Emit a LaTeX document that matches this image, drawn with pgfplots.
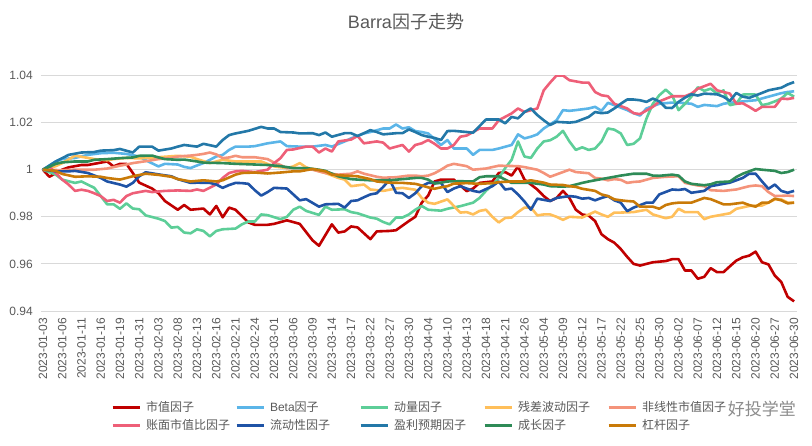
\documentclass[border=0pt]{standalone}
\usepackage{pgfplots}
\pgfplotsset{compat=1.18}
\usepackage{fontspec}
\setmainfont{Liberation Sans}
\newfontfamily\cjk{Noto Sans CJK SC}
\definecolor{cA}{HTML}{C00000}
\definecolor{cB}{HTML}{5BB5E8}
\definecolor{cC}{HTML}{5DCE98}
\definecolor{cD}{HTML}{FFBF5A}
\definecolor{cE}{HTML}{F4937A}
\definecolor{cF}{HTML}{EE5F78}
\definecolor{cG}{HTML}{1F53A6}
\definecolor{cH}{HTML}{2378A8}
\definecolor{cI}{HTML}{2E8B57}
\definecolor{cJ}{HTML}{C97A08}
\definecolor{labelgray}{HTML}{595959}
\definecolor{gridgray}{HTML}{D9D9D9}
\begin{document}
\begin{tikzpicture}[x=1pt,y=1pt]
\useasboundingbox (0,0) rectangle (812,445);
\begin{axis}[
  at={(41pt,134pt)}, anchor=south west,
  scale only axis, width=756pt, height=235.5pt,
  xmin=-0.3, xmax=117.45, ymin=0.94, ymax=1.04,
  ytick={0.94,0.96,0.98,1,1.02,1.04},
  yticklabels={0.94,0.96,0.98,1,1.02,1.04},
  xtick={0,3,...,117},
  xticklabels={2023-01-03,2023-01-06,2023-01-11,2023-01-16,2023-01-19,2023-01-31,2023-02-03,2023-02-08,2023-02-13,2023-02-16,2023-02-21,2023-02-24,2023-03-01,2023-03-06,2023-03-09,2023-03-14,2023-03-17,2023-03-22,2023-03-27,2023-03-30,2023-04-04,2023-04-10,2023-04-13,2023-04-18,2023-04-21,2023-04-26,2023-05-04,2023-05-09,2023-05-12,2023-05-17,2023-05-22,2023-05-25,2023-05-30,2023-06-02,2023-06-07,2023-06-12,2023-06-15,2023-06-20,2023-06-27,2023-06-30},
  ymajorgrids, grid style={color=gridgray, line width=0.9pt},
  axis line style={draw=none}, major tick length=0pt,
  tick label style={font=\fontsize{12}{14}\selectfont, text=labelgray},
  xticklabel style={rotate=90, anchor=east, inner sep=0pt},
  yticklabel style={anchor=east, inner sep=0pt},
  xticklabel shift=7pt, yticklabel shift=8pt,
  legend columns=5,
  legend cell align=left,
  legend style={draw=none, fill=none, at={(0.0926,-0.385)}, anchor=north west,
    font=\fontsize{12}{14}\selectfont, text=labelgray, inner sep=0pt, outer sep=0pt,
    row sep=6pt, nodes={inner sep=0pt},
    /tikz/every odd column/.append style={column sep=5pt}},
  legend image code/.code={\draw[line width=3pt] (0pt,0pt) -- (27pt,0pt);},
  every axis plot/.append style={line width=2.6pt, line join=round},
]
\addplot[cA] coordinates {(0,1.000)(1,0.997)(3,1.000)(4,1.001)(6,1.002)(7,1.002)(10,1.0035)(11,1.0014)(12,1.0025)(13,1.0025)(14,0.9986)(15,0.9945)(17,0.992)(18,0.990)(19,0.9867)(21,0.983)(22,0.985)(23,0.983)(25,0.9835)(26,0.981)(27,0.9846)(28,0.9798)(29,0.9839)(30,0.983)(32,0.9776)(33,0.9766)(35,0.9766)(36,0.977)(38,0.9785)(40,0.977)(42,0.970)(43,0.9677)(45,0.9768)(46,0.9733)(47,0.9738)(48,0.9759)(49,0.9755)(51,0.9705)(52,0.9738)(54,0.974)(55,0.9743)(57,0.9782)(58,0.980)(59,0.986)(60,0.989)(61,0.995)(62,0.9958)(64,0.9958)(66,0.9909)(67,0.992)(68,0.9944)(70,0.995)(71,0.9986)(72,0.999)(73,0.9975)(74,1.0014)(75,0.9958)(77,0.9916)(78,0.9888)(79,0.9867)(80,0.988)(81,0.991)(82,0.988)(83,0.983)(84,0.981)(85,0.9805)(86,0.9782)(87,0.9726)(88,0.9705)(89,0.969)(90,0.9663)(91,0.963)(92,0.960)(93,0.9593)(95,0.9607)(97,0.9612)(98,0.962)(99,0.962)(100,0.9572)(101,0.9572)(102,0.9537)(103,0.9545)(104,0.9582)(105,0.9565)(106,0.9565)(107,0.959)(108,0.9614)(109,0.9628)(110,0.9635)(111,0.9652)(112,0.9607)(113,0.9598)(114,0.955)(115,0.9523)(116,0.946)(117,0.9441)};
\addlegendentry{\makebox[89pt][l]{\cjk 市值因子}}
\addplot[cB] coordinates {(0,1.000)(2,1.0035)(3,1.0045)(5,1.005)(7,1.0063)(9,1.007)(11,1.0072)(13,1.0067)(15,1.0056)(16,1.004)(18,1.0014)(19,1.0025)(21,1.0022)(22,1.0012)(23,1.0007)(24,1.0018)(25,1.0028)(27,1.0056)(28,1.0063)(29,1.0084)(30,1.0098)(32,1.0098)(33,1.010)(35,1.0112)(37,1.012)(38,1.010)(40,1.0098)(42,1.0098)(44,1.0105)(45,1.0098)(47,1.012)(48,1.0133)(50,1.0154)(51,1.016)(53,1.0175)(54,1.0175)(55,1.0192)(56,1.0175)(57,1.018)(58,1.0164)(59,1.016)(60,1.0154)(61,1.013)(62,1.0105)(63,1.0126)(64,1.009)(66,1.009)(67,1.0063)(68,1.0084)(70,1.0084)(71,1.009)(73,1.0105)(74,1.015)(75,1.0133)(76,1.014)(77,1.015)(78,1.0175)(80,1.021)(81,1.0253)(82,1.025)(83,1.0253)(85,1.026)(86,1.0267)(87,1.025)(88,1.0284)(89,1.0274)(91,1.0253)(92,1.024)(93,1.023)(94,1.026)(96,1.028)(98,1.0285)(99,1.0285)(101,1.028)(102,1.0267)(103,1.0275)(105,1.027)(106,1.028)(107,1.0284)(109,1.029)(111,1.0295)(113,1.031)(115,1.0325)(116,1.033)(117,1.0333)};
\addlegendentry{\makebox[89pt][l]{Beta{\cjk 因子}}}
\addplot[cC] coordinates {(0,1.000)(2,0.9979)(3,0.9958)(5,0.9944)(6,0.995)(8,0.9923)(9,0.9888)(10,0.9853)(11,0.9853)(12,0.9834)(13,0.9857)(14,0.9835)(15,0.9832)(16,0.9806)(18,0.9792)(19,0.9782)(20,0.9754)(21,0.9757)(22,0.9733)(23,0.973)(24,0.9747)(25,0.974)(26,0.9717)(27,0.974)(28,0.9747)(30,0.975)(31,0.9768)(32,0.978)(33,0.978)(34,0.981)(35,0.9807)(37,0.979)(38,0.980)(39,0.983)(40,0.9843)(41,0.9825)(43,0.9808)(44,0.9843)(45,0.983)(47,0.9832)(48,0.982)(49,0.9815)(51,0.9797)(52,0.9792)(53,0.9778)(54,0.9768)(55,0.9797)(56,0.9797)(57,0.981)(58,0.983)(59,0.9846)(60,0.983)(62,0.9826)(63,0.9834)(65,0.9845)(67,0.986)(68,0.988)(69,0.991)(70,0.9935)(71,0.9965)(72,1.0007)(73,1.0042)(74,1.012)(75,1.0056)(76,1.005)(77,1.009)(78,1.012)(79,1.0125)(80,1.014)(81,1.0165)(82,1.012)(83,1.0084)(84,1.0095)(85,1.0084)(86,1.009)(87,1.012)(88,1.0175)(89,1.017)(90,1.0154)(91,1.0105)(92,1.011)(93,1.0133)(94,1.0217)(95,1.028)(96,1.0316)(97,1.034)(98,1.0316)(99,1.0253)(100,1.028)(101,1.031)(102,1.035)(103,1.0335)(104,1.0344)(105,1.0323)(106,1.0337)(107,1.0274)(108,1.028)(109,1.0319)(110,1.032)(111,1.0319)(112,1.0274)(113,1.028)(114,1.029)(115,1.0302)(116,1.0326)(117,1.031)};
\addlegendentry{\makebox[89pt][l]{\cjk 动量因子}}
\addplot[cD] coordinates {(0,1.000)(2,1.0015)(3,1.0028)(5,1.0059)(6,1.0055)(8,1.0045)(10,1.004)(11,1.0045)(13,1.005)(15,1.0048)(18,1.0053)(21,1.0059)(23,1.0055)(24,1.0045)(26,1.0028)(28,1.0042)(30,1.0035)(32,1.0035)(34,1.0035)(36,1.0014)(38,1.0007)(39,1.0014)(40,1.0028)(41,1.001)(43,0.9993)(44,0.9986)(46,0.9965)(47,0.9958)(48,0.993)(50,0.9937)(51,0.9916)(53,0.991)(55,0.992)(56,0.9923)(58,0.9915)(59,0.988)(60,0.986)(61,0.9855)(63,0.9874)(64,0.9846)(65,0.9818)(66,0.982)(67,0.981)(68,0.9825)(69,0.983)(70,0.980)(71,0.9776)(72,0.9795)(73,0.9797)(74,0.982)(75,0.9839)(76,0.984)(77,0.9806)(78,0.981)(79,0.981)(80,0.980)(81,0.9787)(82,0.980)(84,0.9797)(86,0.9822)(87,0.981)(88,0.980)(89,0.9818)(90,0.9818)(92,0.982)(94,0.983)(95,0.981)(97,0.9794)(98,0.980)(99,0.9834)(100,0.982)(102,0.982)(103,0.979)(104,0.980)(106,0.981)(107,0.9815)(108,0.9834)(110,0.9846)(112,0.9848)(113,0.986)(114,0.9874)(115,0.9874)(116,0.986)(117,0.986)};
\addlegendentry{\makebox[89pt][l]{\cjk 残差波动因子}}
\addplot[cE] coordinates {(0,1.000)(3,0.9998)(5,1.0)(8,1.0)(10,1.0005)(12,1.0017)(13,1.0022)(14,1.0028)(16,1.0036)(18,1.0045)(20,1.005)(21,1.0056)(23,1.006)(24,1.0063)(25,1.0067)(26,1.0073)(27,1.0065)(28,1.0049)(29,1.0052)(30,1.0059)(31,1.0053)(33,1.0053)(35,1.0045)(36,1.003)(37,1.002)(38,1.0007)(40,1.0007)(42,1.0)(43,0.9993)(44,0.9986)(46,0.9979)(48,0.9983)(49,0.9993)(50,0.9983)(52,0.997)(53,0.9966)(55,0.9968)(57,0.9975)(58,0.9975)(59,0.9972)(60,0.9975)(61,0.9985)(62,1.0)(63,1.0017)(64,1.0025)(66,1.0015)(67,1.0)(69,1.0005)(71,1.0017)(74,1.0015)(75,1.0011)(77,1.0)(78,0.9986)(79,0.997)(80,0.998)(82,1.0)(83,0.999)(85,0.9985)(86,0.9965)(87,0.9962)(88,0.9955)(89,0.996)(90,0.9957)(91,0.9944)(92,0.9948)(93,0.995)(95,0.9965)(97,0.997)(99,0.9972)(100,0.9944)(102,0.9933)(103,0.993)(104,0.9913)(106,0.991)(108,0.9916)(110,0.993)(111,0.9933)(112,0.993)(113,0.9905)(114,0.9888)(116,0.989)(117,0.9888)};
\addlegendentry{\makebox[89pt][l]{\cjk 非线性市值因子}}
\addplot[cF] coordinates {(0,1.000)(1,1.0014)(2,0.9986)(3,0.9958)(4,0.9937)(5,0.991)(6,0.9915)(7,0.991)(8,0.990)(9,0.9888)(10,0.9867)(11,0.9872)(12,0.986)(13,0.9888)(14,0.990)(16,0.991)(17,0.9905)(19,0.991)(21,0.9912)(23,0.991)(24,0.9916)(25,0.991)(27,0.9937)(28,0.9965)(29,0.9986)(30,0.9993)(31,0.9995)(33,0.999)(34,0.9995)(35,1.0)(36,1.0028)(37,1.0049)(38,1.0084)(39,1.0086)(41,1.0098)(42,1.0098)(43,1.0073)(44,1.009)(45,1.0077)(46,1.012)(48,1.0128)(49,1.0143)(50,1.0112)(52,1.012)(53,1.0115)(54,1.009)(56,1.0105)(57,1.0077)(58,1.0105)(59,1.0112)(60,1.0126)(61,1.011)(62,1.009)(63,1.009)(64,1.0105)(65,1.014)(66,1.0145)(68,1.0175)(70,1.0175)(71,1.021)(73,1.0239)(74,1.026)(75,1.0245)(77,1.026)(78,1.0337)(79,1.037)(80,1.040)(81,1.040)(82,1.038)(84,1.037)(85,1.037)(86,1.033)(87,1.0316)(88,1.0312)(89,1.028)(91,1.026)(92,1.024)(93,1.0236)(95,1.0267)(96,1.029)(98,1.0312)(100,1.0312)(101,1.0323)(102,1.0344)(104,1.0365)(105,1.0337)(107,1.0323)(108,1.028)(109,1.0282)(110,1.0267)(111,1.025)(112,1.0267)(114,1.0267)(115,1.0302)(116,1.030)(117,1.0305)};
\addlegendentry{\makebox[89pt][l]{\cjk 账面市值比因子}}
\addplot[cG] coordinates {(0,1.000)(2,0.9993)(4,0.9993)(5,0.9995)(7,0.9986)(9,0.9965)(10,0.995)(12,0.9937)(13,0.9928)(14,0.9944)(15,0.9972)(16,0.9989)(18,0.998)(20,0.9972)(21,0.996)(23,0.9944)(24,0.9945)(26,0.9944)(27,0.9937)(28,0.9923)(29,0.9935)(30,0.9944)(31,0.9943)(32,0.994)(33,0.9913)(34,0.989)(35,0.9905)(36,0.9923)(38,0.992)(39,0.9895)(40,0.987)(41,0.9875)(43,0.9843)(44,0.9853)(46,0.9855)(47,0.9839)(48,0.9867)(49,0.987)(50,0.9883)(51,0.9895)(52,0.990)(53,0.9927)(54,0.9958)(55,0.9902)(56,0.990)(57,0.988)(58,0.990)(59,0.993)(60,0.9944)(61,0.9945)(62,0.9944)(63,0.9905)(64,0.992)(65,0.993)(67,0.991)(68,0.9905)(70,0.993)(71,0.995)(72,0.9916)(73,0.992)(74,0.9895)(75,0.9865)(76,0.983)(77,0.9877)(78,0.9872)(79,0.9867)(80,0.988)(82,0.9888)(83,0.9885)(84,0.9877)(85,0.988)(86,0.987)(87,0.988)(88,0.9888)(89,0.987)(90,0.986)(91,0.9824)(92,0.9839)(94,0.986)(95,0.986)(96,0.9895)(98,0.9916)(99,0.9914)(100,0.9918)(101,0.9902)(103,0.991)(104,0.993)(106,0.994)(107,0.9945)(109,0.9965)(110,0.9983)(111,0.9983)(112,0.995)(113,0.9919)(114,0.9937)(115,0.991)(116,0.9902)(117,0.991)};
\addlegendentry{\makebox[89pt][l]{\cjk 流动性因子}}
\addplot[cH] coordinates {(0,1.000)(2,1.0035)(3,1.0049)(4,1.0063)(6,1.0073)(8,1.0075)(9,1.0081)(11,1.0083)(12,1.0088)(14,1.0073)(15,1.0098)(17,1.0098)(18,1.0081)(20,1.009)(21,1.0098)(22,1.0105)(24,1.0098)(25,1.011)(27,1.0098)(28,1.0126)(29,1.0147)(30,1.0154)(32,1.0165)(34,1.0182)(35,1.0175)(36,1.0175)(37,1.016)(39,1.0158)(40,1.0154)(42,1.0155)(43,1.0147)(44,1.0158)(45,1.014)(47,1.0155)(48,1.0155)(49,1.0143)(50,1.0155)(51,1.0168)(52,1.016)(53,1.015)(55,1.0155)(56,1.0155)(57,1.0171)(58,1.016)(59,1.0147)(60,1.014)(61,1.0135)(62,1.0126)(63,1.0164)(64,1.0165)(66,1.016)(67,1.0157)(69,1.0213)(71,1.0213)(72,1.0197)(73,1.0224)(74,1.0218)(75,1.0245)(76,1.026)(77,1.0232)(78,1.021)(79,1.019)(80,1.0203)(82,1.020)(83,1.0203)(85,1.0224)(86,1.0245)(87,1.024)(88,1.0243)(89,1.026)(90,1.028)(91,1.0298)(92,1.0298)(93,1.0295)(94,1.0288)(95,1.0302)(96,1.029)(97,1.0263)(98,1.0262)(99,1.0288)(100,1.0306)(101,1.032)(102,1.0315)(103,1.0323)(105,1.032)(106,1.031)(107,1.0292)(108,1.0326)(109,1.031)(110,1.0305)(112,1.0326)(113,1.0337)(115,1.0348)(116,1.0362)(117,1.0372)};
\addlegendentry{\makebox[89pt][l]{\cjk 盈利预期因子}}
\addplot[cI] coordinates {(0,1.000)(2,1.0025)(3,1.0031)(5,1.0035)(7,1.0035)(8,1.0042)(10,1.0045)(12,1.0049)(14,1.0052)(15,1.0059)(17,1.006)(18,1.0052)(19,1.0045)(21,1.0042)(22,1.0043)(24,1.0035)(25,1.003)(28,1.0028)(30,1.0025)(33,1.0022)(35,1.002)(37,1.0015)(39,1.0007)(41,1.0007)(43,1.0)(44,0.9995)(46,0.9972)(48,0.996)(49,0.9958)(51,0.9955)(54,0.9955)(56,0.996)(58,0.9965)(59,0.9965)(60,0.9958)(61,0.9941)(62,0.9945)(63,0.995)(65,0.9951)(67,0.995)(68,0.9968)(69,0.9972)(71,0.9972)(72,0.9958)(73,0.9944)(76,0.9944)(78,0.9937)(79,0.993)(81,0.9928)(82,0.993)(84,0.9944)(85,0.995)(87,0.996)(88,0.9965)(89,0.997)(90,0.9975)(92,0.9983)(94,0.9983)(95,0.9975)(96,0.9974)(98,0.9979)(99,0.9975)(100,0.995)(101,0.994)(103,0.9934)(104,0.9938)(105,0.9947)(107,0.995)(108,0.9969)(109,0.9983)(111,1.0003)(112,1.0)(114,0.9995)(115,0.9986)(116,0.999)(117,1.0)};
\addlegendentry{\makebox[89pt][l]{\cjk 成长因子}}
\addplot[cJ] coordinates {(0,1.000)(2,0.9995)(3,0.9982)(5,0.997)(7,0.9972)(9,0.997)(10,0.9965)(12,0.9958)(14,0.9972)(16,0.9983)(18,0.9978)(20,0.997)(21,0.996)(23,0.995)(25,0.9955)(27,0.995)(28,0.9955)(30,0.9979)(31,0.9986)(33,0.9988)(35,0.9984)(37,0.9988)(39,0.9993)(40,0.9993)(42,1.0003)(44,0.9993)(45,0.9979)(47,0.9975)(49,0.9972)(51,0.996)(52,0.995)(54,0.9945)(56,0.9944)(58,0.994)(59,0.9933)(60,0.9925)(61,0.9919)(62,0.9925)(63,0.993)(64,0.9941)(66,0.9943)(68,0.994)(70,0.9943)(71,0.9947)(73,0.995)(75,0.995)(76,0.9955)(77,0.995)(78,0.9945)(79,0.9937)(81,0.9935)(82,0.993)(83,0.9927)(84,0.9919)(86,0.991)(87,0.9895)(88,0.9888)(89,0.9874)(90,0.987)(91,0.9867)(92,0.9865)(93,0.9843)(95,0.9843)(96,0.9834)(97,0.985)(98,0.9857)(99,0.986)(101,0.986)(103,0.988)(104,0.9875)(106,0.9853)(107,0.9853)(109,0.986)(110,0.985)(111,0.9843)(112,0.986)(113,0.986)(114,0.9877)(115,0.987)(116,0.9857)(117,0.986)};
\addlegendentry{\makebox[89pt][l]{\cjk 杠杆因子}}
\end{axis}
\node[font=\fontsize{18}{21}\selectfont, text=labelgray] at (406,423) {Barra{\cjk 因子走势}};
\node[font=\cjk\fontsize{17}{19}\selectfont, text=black!45, anchor=east, inner sep=0pt] at (796,36) {好投学堂};
\end{tikzpicture}
\end{document}
